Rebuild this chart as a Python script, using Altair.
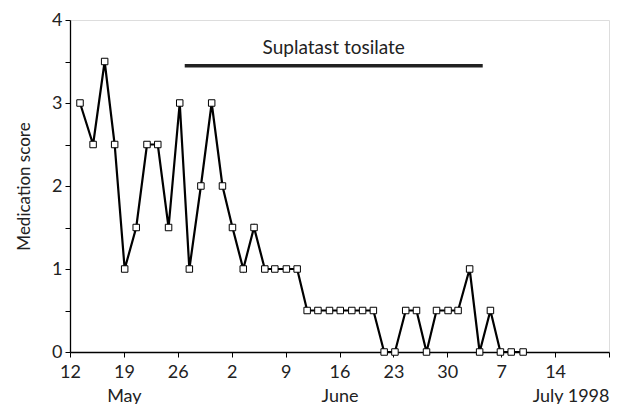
import altair as alt
import pandas as pd
import json

# Days since 12 May 1998 and medication scores
days = [1.3, 3.0, 4.5, 5.8, 7.1, 8.6, 10.0, 11.4, 12.8, 14.25, 15.5, 17.0, 18.4, 19.8,
        21.1, 22.5, 23.9, 25.3, 26.6, 28.1, 29.5, 30.8, 32.2, 33.7, 35.1, 36.6, 38.0,
        39.4, 40.8, 42.2, 43.6, 45.0, 46.3, 47.6, 49.1, 50.4, 51.9, 53.2, 54.6, 55.9,
        57.3, 58.85]
scores = [3, 2.5, 3.5, 2.5, 1, 1.5, 2.5, 2.5, 1.5, 3, 1, 2, 3, 2, 1.5, 1, 1.5, 1, 1, 1,
          1, 0.5, 0.5, 0.5, 0.5, 0.5, 0.5, 0.5, 0, 0, 0.5, 0.5, 0, 0.5, 0.5, 0.5, 1, 0,
          0.5, 0, 0, 0]

# Axis ticks (every 7 days) and their labels
tick_days = [0, 7, 14, 21, 28, 35, 42, 49, 56, 63, 70]
tick_labels = [["12"], ["19", "May"], ["26"], ["2"], ["9"], ["16", "June"], ["23"],
               ["30"], ["7"], ["14"], ["", "July 1998"]]
y_ticks = [0, 0.5, 1, 1.5, 2, 2.5, 3, 3.5, 4]

# Treatment period
treat_start = [14.9]
treat_end = [53.6]
treat_level = [3.45]
treat_label = ["Suplatast tosilate"]

FONT = "Lato"

df = pd.DataFrame({"day": days, "score": scores})
tdf = pd.DataFrame({"start": treat_start, "end": treat_end, "level": treat_level,
                    "label": treat_label, "mid": [(treat_start[0] + treat_end[0]) / 2],
                    "ty": [treat_level[0] + 0.14]})

label_expr = json.dumps(tick_labels) + "[round(datum.value/7)]"

x_scale = alt.Scale(domain=[0, 70], nice=False, zero=False)
y_scale = alt.Scale(domain=[0, 4], nice=False)

x_axis = alt.Axis(values=tick_days, labelExpr=label_expr, title=None, grid=False,
                  tickSize=5, labelPadding=6, labelFontSize=18, labelLineHeight=24,
                  labelFont=FONT, labelColor="#222", labelOverlap=False,
                  labelBound=False, labelFlush=False,
                  labelAlign={"condition": {"test": "datum.value == 70", "value": "right"},
                              "value": "center"},
                  domainColor="black", tickColor="black", domainWidth=1.3, tickWidth=1)
y_axis = alt.Axis(values=y_ticks, labelExpr="datum.value % 1 == 0 ? datum.value : ''",
                  title="Medication score", titleFont=FONT, titleFontSize=17,
                  titleFontWeight="normal", titleColor="#222", titlePadding=18,
                  grid=False, tickSize=5, labelPadding=3, labelFontSize=18,
                  labelFont=FONT, labelColor="#222", labelOverlap=False,
                  domainColor="black", tickColor="black", domainWidth=1.3, tickWidth=1)

line = alt.Chart(df).mark_line(color="black", strokeWidth=2.2).encode(
    x=alt.X("day:Q", scale=x_scale, axis=x_axis),
    y=alt.Y("score:Q", scale=y_scale, axis=y_axis),
)
pts = alt.Chart(df).mark_point(shape="square", filled=True, fill="white",
                               stroke="black", strokeWidth=1, size=42, opacity=1).encode(
    x=alt.X("day:Q", scale=x_scale),
    y=alt.Y("score:Q", scale=y_scale),
)
bar = alt.Chart(tdf).mark_rule(color="#222", strokeWidth=3.5).encode(
    x=alt.X("start:Q", scale=x_scale),
    x2="end:Q",
    y=alt.Y("level:Q", scale=y_scale),
)
txt = alt.Chart(tdf).mark_text(font=FONT, fontSize=19, color="#222", align="center",
                               baseline="alphabetic").encode(
    x=alt.X("mid:Q", scale=x_scale),
    y=alt.Y("ty:Q", scale=y_scale),
    text="label:N",
)

chart = alt.layer(line, pts, bar, txt).properties(
    width=539, height=332,
    autosize=alt.AutoSizeParams(type="none"),
    padding={"left": 62, "top": 12, "right": 2, "bottom": 52},
).configure_view(stroke=None).configure(background="white")

chart.save("out.html", embed_options={"renderer": "svg", "actions": False})
